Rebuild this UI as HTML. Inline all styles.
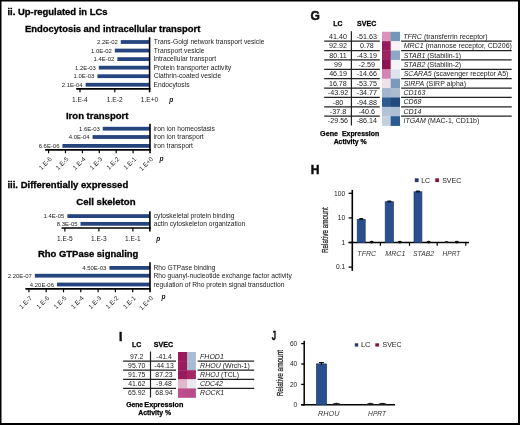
<!DOCTYPE html>
<html><head><meta charset="utf-8"><style>
html,body{margin:0;padding:0;background:#fff;}
svg{display:block;}
text{font-family:"Liberation Sans",sans-serif;}
</style></head><body>
<svg width="520" height="425" viewBox="0 0 520 425">
<defs><filter id="soft" x="0" y="0" width="520" height="425" filterUnits="userSpaceOnUse"><feGaussianBlur stdDeviation="0.3"/></filter></defs>
<rect x="0" y="0" width="520" height="425" fill="#fff"/>
<g filter="url(#soft)">
<rect x="0" y="0" width="520" height="425" fill="#fff"/>
<text x="7.44" y="14.8" font-size="9.45" font-weight="bold" font-style="normal" fill="#000" stroke="#000" stroke-width="0.3">ii. Up-regulated in LCs</text>
<text x="7.43" y="188.2" font-size="9.54" font-weight="bold" font-style="normal" fill="#000" stroke="#000" stroke-width="0.3">iii. Differentially expressed</text>
<text x="24.99" y="31.9" font-size="9.44" font-weight="bold" font-style="normal" fill="#000" stroke="#000" stroke-width="0.3">Endocytosis and intracellular transport</text>
<rect x="120.76" y="40.1" width="28.84" height="3.8" fill="#28457f"/>
<text x="97.03" y="44" font-size="5.95" font-weight="normal" font-style="normal" fill="#222">2.2E-02</text>
<text x="153.87" y="44" font-size="6.70" font-weight="normal" font-style="normal" fill="#222">Trans-Golgi network transport vesicle</text>
<rect x="114.8" y="48.65" width="34.8" height="3.8" fill="#28457f"/>
<text x="91.07" y="52.55" font-size="5.95" font-weight="normal" font-style="normal" fill="#222">1.0E-02</text>
<text x="153.87" y="52.55" font-size="6.70" font-weight="normal" font-style="normal" fill="#222">Transport vesicle</text>
<rect x="117.34" y="57.2" width="32.26" height="3.8" fill="#28457f"/>
<text x="93.62" y="61.1" font-size="5.95" font-weight="normal" font-style="normal" fill="#222">1.4E-02</text>
<text x="153.4" y="61.1" font-size="6.70" font-weight="normal" font-style="normal" fill="#222">Intracellular transport</text>
<rect x="98.78" y="65.75" width="50.82" height="3.8" fill="#28457f"/>
<text x="74.99" y="69.65" font-size="5.95" font-weight="normal" font-style="normal" fill="#222">1.2E-03</text>
<text x="153.46" y="69.65" font-size="6.70" font-weight="normal" font-style="normal" fill="#222">Protein transporter activity</text>
<rect x="97.4" y="74.3" width="52.2" height="3.8" fill="#28457f"/>
<text x="73.61" y="78.2" font-size="5.95" font-weight="normal" font-style="normal" fill="#222">1.0E-03</text>
<text x="153.66" y="78.2" font-size="6.70" font-weight="normal" font-style="normal" fill="#222">Clathrin-coated vesicle</text>
<rect x="85.61" y="82.85" width="63.99" height="3.8" fill="#28457f"/>
<text x="61.76" y="86.75" font-size="5.95" font-weight="normal" font-style="normal" fill="#222">2.1E-04</text>
<text x="153.46" y="86.75" font-size="6.70" font-weight="normal" font-style="normal" fill="#222">Endocytosis</text>
<line x1="149.6" y1="37.3" x2="149.6" y2="92.3" stroke="#000" stroke-width="1.6"/>
<line x1="76.2" y1="88.9" x2="150.4" y2="88.9" stroke="#000" stroke-width="1.7"/>
<line x1="80" y1="88.9" x2="80" y2="92.3" stroke="#000" stroke-width="1.2"/>
<line x1="114.8" y1="88.9" x2="114.8" y2="92.3" stroke="#000" stroke-width="1.2"/>
<text x="71.96" y="101.9" font-size="6.60" font-weight="normal" font-style="normal" fill="#222">1.E-4</text>
<text x="106.83" y="101.9" font-size="6.60" font-weight="normal" font-style="normal" fill="#222">1.E-2</text>
<text x="140.76" y="101.9" font-size="6.60" font-weight="normal" font-style="normal" fill="#222">1.E+0</text>
<text x="169.33" y="101.8" font-size="6.60" font-weight="bold" font-style="italic" fill="#111">p</text>
<text x="65.98" y="118.5" font-size="9.54" font-weight="bold" font-style="normal" fill="#000" stroke="#000" stroke-width="0.3">Iron transport</text>
<rect x="102.75" y="126.8" width="47.25" height="3.8" fill="#28457f"/>
<text x="78.96" y="130.7" font-size="5.95" font-weight="normal" font-style="normal" fill="#222">1.6E-03</text>
<text x="153.56" y="130.7" font-size="6.70" font-weight="normal" font-style="normal" fill="#222">iron ion homeostasis</text>
<rect x="92.57" y="135.1" width="57.43" height="3.8" fill="#28457f"/>
<text x="68.73" y="139" font-size="5.95" font-weight="normal" font-style="normal" fill="#222">4.0E-04</text>
<text x="153.56" y="139" font-size="6.70" font-weight="normal" font-style="normal" fill="#222">iron ion transport</text>
<rect x="62.45" y="144" width="87.55" height="3.8" fill="#28457f"/>
<text x="38.66" y="147.9" font-size="5.95" font-weight="normal" font-style="normal" fill="#222">6.6E-06</text>
<text x="153.56" y="147.9" font-size="6.70" font-weight="normal" font-style="normal" fill="#222">iron transport</text>
<line x1="150" y1="123.8" x2="150" y2="153.2" stroke="#000" stroke-width="1.6"/>
<line x1="45.1" y1="149.8" x2="150.8" y2="149.8" stroke="#000" stroke-width="1.7"/>
<line x1="48.6" y1="149.8" x2="48.6" y2="153.2" stroke="#000" stroke-width="1.2"/>
<line x1="65.5" y1="149.8" x2="65.5" y2="153.2" stroke="#000" stroke-width="1.2"/>
<line x1="82.4" y1="149.8" x2="82.4" y2="153.2" stroke="#000" stroke-width="1.2"/>
<line x1="99.3" y1="149.8" x2="99.3" y2="153.2" stroke="#000" stroke-width="1.2"/>
<line x1="116.2" y1="149.8" x2="116.2" y2="153.2" stroke="#000" stroke-width="1.2"/>
<line x1="133.1" y1="149.8" x2="133.1" y2="153.2" stroke="#000" stroke-width="1.2"/>
<text x="41.31" y="169.82" font-size="6.35" font-weight="normal" font-style="normal" fill="#222" transform="rotate(-45 41.78 169.82)">1.E-6</text>
<text x="58.21" y="169.82" font-size="6.35" font-weight="normal" font-style="normal" fill="#222" transform="rotate(-45 58.68 169.82)">1.E-5</text>
<text x="75.06" y="169.86" font-size="6.35" font-weight="normal" font-style="normal" fill="#222" transform="rotate(-45 75.54 169.86)">1.E-4</text>
<text x="92.01" y="169.82" font-size="6.35" font-weight="normal" font-style="normal" fill="#222" transform="rotate(-45 92.48 169.82)">1.E-3</text>
<text x="108.95" y="169.77" font-size="6.35" font-weight="normal" font-style="normal" fill="#222" transform="rotate(-45 109.43 169.77)">1.E-2</text>
<text x="125.83" y="169.79" font-size="6.35" font-weight="normal" font-style="normal" fill="#222" transform="rotate(-45 126.31 169.79)">1.E-1</text>
<text x="141.56" y="170.96" font-size="6.35" font-weight="normal" font-style="normal" fill="#222" transform="rotate(-45 142.04 170.96)">1.E+0</text>
<text x="159.43" y="160.6" font-size="6.60" font-weight="bold" font-style="italic" fill="#111">p</text>
<text x="76.21" y="205.4" font-size="9.64" font-weight="bold" font-style="normal" fill="#000" stroke="#000" stroke-width="0.3">Cell skeleton</text>
<rect x="67.38" y="214.2" width="82.52" height="3.8" fill="#28457f"/>
<text x="43.6" y="218.1" font-size="5.95" font-weight="normal" font-style="normal" fill="#222">1.4E-05</text>
<text x="153.73" y="218.2" font-size="6.70" font-weight="normal" font-style="normal" fill="#222">cytoskeletal protein binding</text>
<rect x="80.52" y="221.95" width="69.38" height="3.8" fill="#28457f"/>
<text x="56.74" y="225.85" font-size="5.95" font-weight="normal" font-style="normal" fill="#222">8.3E-05</text>
<text x="153.73" y="225.95" font-size="6.70" font-weight="normal" font-style="normal" fill="#222">actin cytoskeleton organization</text>
<line x1="149.9" y1="211.2" x2="149.9" y2="231.4" stroke="#000" stroke-width="1.6"/>
<line x1="61.5" y1="228" x2="150.7" y2="228" stroke="#000" stroke-width="1.7"/>
<line x1="64.9" y1="228" x2="64.9" y2="231.4" stroke="#000" stroke-width="1.2"/>
<line x1="98.9" y1="228" x2="98.9" y2="231.4" stroke="#000" stroke-width="1.2"/>
<line x1="132.9" y1="228" x2="132.9" y2="231.4" stroke="#000" stroke-width="1.2"/>
<text x="56.9" y="240.7" font-size="6.60" font-weight="normal" font-style="normal" fill="#222">1.E-5</text>
<text x="90.9" y="240.7" font-size="6.60" font-weight="normal" font-style="normal" fill="#222">1.E-3</text>
<text x="124.91" y="240.7" font-size="6.60" font-weight="normal" font-style="normal" fill="#222">1.E-1</text>
<text x="156.33" y="240.6" font-size="6.60" font-weight="bold" font-style="italic" fill="#111">p</text>
<text x="37.88" y="257.3" font-size="9.47" font-weight="bold" font-style="normal" fill="#000" stroke="#000" stroke-width="0.3">Rho GTPase signaling</text>
<rect x="109.4" y="266" width="40.6" height="3.8" fill="#28457f"/>
<text x="82.28" y="269.9" font-size="5.95" font-weight="normal" font-style="normal" fill="#222">4.50E-03</text>
<text x="153.46" y="269.9" font-size="6.70" font-weight="normal" font-style="normal" fill="#222">Rho GTPase binding</text>
<rect x="34.82" y="273.8" width="115.18" height="3.8" fill="#28457f"/>
<text x="7.76" y="277.7" font-size="5.95" font-weight="normal" font-style="normal" fill="#222">2.20E-07</text>
<text x="153.46" y="277.7" font-size="6.70" font-weight="normal" font-style="normal" fill="#222">Rho guanyl-nucleotide exchange factor activity</text>
<rect x="56.98" y="282.6" width="93.02" height="3.8" fill="#28457f"/>
<text x="29.86" y="286.5" font-size="5.95" font-weight="normal" font-style="normal" fill="#222">4.20E-06</text>
<text x="153.56" y="286.5" font-size="6.70" font-weight="normal" font-style="normal" fill="#222">regulation of Rho protein signal transduction</text>
<line x1="150" y1="262.3" x2="150" y2="292.3" stroke="#000" stroke-width="1.6"/>
<line x1="25.4" y1="288.9" x2="150.8" y2="288.9" stroke="#000" stroke-width="1.7"/>
<line x1="28.9" y1="288.9" x2="28.9" y2="292.3" stroke="#000" stroke-width="1.2"/>
<line x1="46.2" y1="288.9" x2="46.2" y2="292.3" stroke="#000" stroke-width="1.2"/>
<line x1="63.5" y1="288.9" x2="63.5" y2="292.3" stroke="#000" stroke-width="1.2"/>
<line x1="80.8" y1="288.9" x2="80.8" y2="292.3" stroke="#000" stroke-width="1.2"/>
<line x1="98.1" y1="288.9" x2="98.1" y2="292.3" stroke="#000" stroke-width="1.2"/>
<line x1="115.4" y1="288.9" x2="115.4" y2="292.3" stroke="#000" stroke-width="1.2"/>
<line x1="132.7" y1="288.9" x2="132.7" y2="292.3" stroke="#000" stroke-width="1.2"/>
<text x="21.65" y="308.87" font-size="6.35" font-weight="normal" font-style="normal" fill="#222" transform="rotate(-45 22.13 308.87)">1.E-7</text>
<text x="38.91" y="308.92" font-size="6.35" font-weight="normal" font-style="normal" fill="#222" transform="rotate(-45 39.38 308.92)">1.E-6</text>
<text x="56.21" y="308.92" font-size="6.35" font-weight="normal" font-style="normal" fill="#222" transform="rotate(-45 56.68 308.92)">1.E-5</text>
<text x="73.46" y="308.96" font-size="6.35" font-weight="normal" font-style="normal" fill="#222" transform="rotate(-45 73.94 308.96)">1.E-4</text>
<text x="90.81" y="308.92" font-size="6.35" font-weight="normal" font-style="normal" fill="#222" transform="rotate(-45 91.28 308.92)">1.E-3</text>
<text x="108.15" y="308.87" font-size="6.35" font-weight="normal" font-style="normal" fill="#222" transform="rotate(-45 108.63 308.87)">1.E-2</text>
<text x="125.43" y="308.89" font-size="6.35" font-weight="normal" font-style="normal" fill="#222" transform="rotate(-45 125.91 308.89)">1.E-1</text>
<text x="141.56" y="310.06" font-size="6.35" font-weight="normal" font-style="normal" fill="#222" transform="rotate(-45 142.04 310.06)">1.E+0</text>
<text x="161.43" y="299.2" font-size="6.60" font-weight="bold" font-style="italic" fill="#111">p</text>
<text x="310.62" y="20" font-size="12.00" font-weight="bold" font-style="normal" fill="#111" stroke="#111" stroke-width="0.5">G</text>
<rect x="382" y="31.8" width="9" height="9.68" fill="#d993ba"/>
<rect x="390.7" y="31.8" width="9.3" height="9.68" fill="#7198b9"/>
<g><text transform="translate(329.09 38.84) scale(1.070 1)" font-size="6.70" font-weight="normal" font-style="normal" fill="#222">41.40</text></g>
<g><text transform="translate(356.72 38.84) scale(1.070 1)" font-size="6.70" font-weight="normal" font-style="normal" fill="#222">-51.63</text></g>
<text x="403.27" y="38.74" font-size="7.0" fill="#222"><tspan font-style="italic">TFRC</tspan> (transferrin receptor)</text>
<line x1="324.2" y1="41.18" x2="379.8" y2="41.18" stroke="#222" stroke-width="1.3"/>
<line x1="401.1" y1="41.18" x2="511.7" y2="41.18" stroke="#222" stroke-width="1.3"/>
<rect x="382" y="41.18" width="9" height="9.68" fill="#951b5b"/>
<rect x="390.7" y="41.18" width="9.3" height="9.68" fill="#f6f2f6"/>
<g><text transform="translate(329.06 48.22) scale(1.070 1)" font-size="6.70" font-weight="normal" font-style="normal" fill="#222">92.92</text></g>
<g><text transform="translate(359.93 48.22) scale(1.070 1)" font-size="6.70" font-weight="normal" font-style="normal" fill="#222">0.78</text></g>
<text x="403.69" y="48.12" font-size="7.0" fill="#222"><tspan font-style="italic">MRC1</tspan> (mannose receptor, CD206)</text>
<line x1="324.2" y1="50.56" x2="379.8" y2="50.56" stroke="#222" stroke-width="1.3"/>
<line x1="401.1" y1="50.56" x2="511.7" y2="50.56" stroke="#222" stroke-width="1.3"/>
<rect x="382" y="50.56" width="9" height="9.68" fill="#9d2464"/>
<rect x="390.7" y="50.56" width="9.3" height="9.68" fill="#8ea7c4"/>
<g><text transform="translate(329.31 57.59) scale(1.070 1)" font-size="6.70" font-weight="normal" font-style="normal" fill="#222">80.11</text></g>
<g><text transform="translate(356.74 57.59) scale(1.070 1)" font-size="6.70" font-weight="normal" font-style="normal" fill="#222">-43.19</text></g>
<text x="403.69" y="57.5" font-size="7.0" fill="#222"><tspan font-style="italic">STAB1</tspan> (Stabilin-1)</text>
<line x1="324.2" y1="59.94" x2="379.8" y2="59.94" stroke="#222" stroke-width="1.3"/>
<line x1="401.1" y1="59.94" x2="511.7" y2="59.94" stroke="#222" stroke-width="1.3"/>
<rect x="382" y="59.94" width="9" height="9.68" fill="#8b1450"/>
<rect x="390.7" y="59.94" width="9.3" height="9.68" fill="#f3f3f6"/>
<g><text transform="translate(334.02 66.97) scale(1.070 1)" font-size="6.70" font-weight="normal" font-style="normal" fill="#222">99</text></g>
<g><text transform="translate(358.73 66.97) scale(1.070 1)" font-size="6.70" font-weight="normal" font-style="normal" fill="#222">-2.59</text></g>
<text x="403.69" y="66.88" font-size="7.0" fill="#222"><tspan font-style="italic">STAB2</tspan> (Stabilin-2)</text>
<line x1="324.2" y1="69.32" x2="379.8" y2="69.32" stroke="#222" stroke-width="1.3"/>
<line x1="401.1" y1="69.32" x2="511.7" y2="69.32" stroke="#222" stroke-width="1.3"/>
<rect x="382" y="69.32" width="9" height="9.68" fill="#d185b2"/>
<rect x="390.7" y="69.32" width="9.3" height="9.68" fill="#dce3ec"/>
<g><text transform="translate(329.13 76.36) scale(1.070 1)" font-size="6.70" font-weight="normal" font-style="normal" fill="#222">46.19</text></g>
<g><text transform="translate(356.72 76.36) scale(1.070 1)" font-size="6.70" font-weight="normal" font-style="normal" fill="#222">-14.66</text></g>
<text x="403.69" y="76.26" font-size="7.0" fill="#222"><tspan font-style="italic">SCARA5</tspan> (scavenger receptor A5)</text>
<line x1="324.2" y1="78.7" x2="379.8" y2="78.7" stroke="#222" stroke-width="1.3"/>
<line x1="401.1" y1="78.7" x2="511.7" y2="78.7" stroke="#222" stroke-width="1.3"/>
<rect x="382" y="78.7" width="9" height="9.68" fill="#f0e0e8"/>
<rect x="390.7" y="78.7" width="9.3" height="9.68" fill="#7b99b9"/>
<g><text transform="translate(328.91 85.73) scale(1.070 1)" font-size="6.70" font-weight="normal" font-style="normal" fill="#222">16.78</text></g>
<g><text transform="translate(356.72 85.73) scale(1.070 1)" font-size="6.70" font-weight="normal" font-style="normal" fill="#222">-53.75</text></g>
<text x="403.69" y="85.64" font-size="7.0" fill="#222"><tspan font-style="italic">SIRPA</tspan> (SIRP alpha)</text>
<line x1="324.2" y1="88.08" x2="379.8" y2="88.08" stroke="#222" stroke-width="1.3"/>
<line x1="401.1" y1="88.08" x2="511.7" y2="88.08" stroke="#222" stroke-width="1.3"/>
<rect x="382" y="88.08" width="9" height="9.68" fill="#a3b5cc"/>
<rect x="390.7" y="88.08" width="9.3" height="9.68" fill="#abbcd1"/>
<g><text transform="translate(327.86 95.11) scale(1.070 1)" font-size="6.70" font-weight="normal" font-style="normal" fill="#222">-43.92</text></g>
<g><text transform="translate(356.76 95.11) scale(1.070 1)" font-size="6.70" font-weight="normal" font-style="normal" fill="#222">-34.77</text></g>
<text x="403.51" y="95.02" font-size="7.0" fill="#222"><tspan font-style="italic">CD163</tspan></text>
<line x1="324.2" y1="97.46" x2="379.8" y2="97.46" stroke="#222" stroke-width="1.3"/>
<line x1="401.1" y1="97.46" x2="511.7" y2="97.46" stroke="#222" stroke-width="1.3"/>
<rect x="382" y="97.46" width="9" height="9.68" fill="#2f5b8f"/>
<rect x="390.7" y="97.46" width="9.3" height="9.68" fill="#214b7f"/>
<g><text transform="translate(332.78 104.5) scale(1.070 1)" font-size="6.70" font-weight="normal" font-style="normal" fill="#222">-80</text></g>
<g><text transform="translate(356.72 104.5) scale(1.070 1)" font-size="6.70" font-weight="normal" font-style="normal" fill="#222">-94.88</text></g>
<text x="403.51" y="104.4" font-size="7.0" fill="#222"><tspan font-style="italic">CD68</tspan></text>
<line x1="324.2" y1="106.84" x2="379.8" y2="106.84" stroke="#222" stroke-width="1.3"/>
<line x1="401.1" y1="106.84" x2="511.7" y2="106.84" stroke="#222" stroke-width="1.3"/>
<rect x="382" y="106.84" width="9" height="9.68" fill="#b3c3d6"/>
<rect x="390.7" y="106.84" width="9.3" height="9.68" fill="#aebfd3"/>
<g><text transform="translate(329.81 113.88) scale(1.070 1)" font-size="6.70" font-weight="normal" font-style="normal" fill="#222">-37.8</text></g>
<g><text transform="translate(358.71 113.88) scale(1.070 1)" font-size="6.70" font-weight="normal" font-style="normal" fill="#222">-40.6</text></g>
<text x="403.51" y="113.78" font-size="7.0" fill="#222"><tspan font-style="italic">CD14</tspan></text>
<line x1="324.2" y1="116.22" x2="379.8" y2="116.22" stroke="#222" stroke-width="1.3"/>
<line x1="401.1" y1="116.22" x2="511.7" y2="116.22" stroke="#222" stroke-width="1.3"/>
<rect x="382" y="116.22" width="9" height="9.68" fill="#c3d0df"/>
<rect x="390.7" y="116.22" width="9.3" height="9.68" fill="#2c5a90"/>
<g><text transform="translate(327.82 123.25) scale(1.070 1)" font-size="6.70" font-weight="normal" font-style="normal" fill="#222">-29.56</text></g>
<g><text transform="translate(356.68 123.25) scale(1.070 1)" font-size="6.70" font-weight="normal" font-style="normal" fill="#222">-86.14</text></g>
<text x="403.62" y="123.16" font-size="7.0" fill="#222"><tspan font-style="italic">ITGAM</tspan> (MAC-1, CD11b)</text>
<line x1="351.4" y1="31.3" x2="351.4" y2="125.6" stroke="#222" stroke-width="1.2"/>
<text x="333.27" y="26.4" font-size="6.90" font-weight="bold" font-style="normal" fill="#000" stroke="#000" stroke-width="0.25">LC</text>
<g><text transform="translate(357.09 26.4) scale(1.022 1)" font-size="6.90" font-weight="bold" font-style="normal" fill="#000" stroke="#000" stroke-width="0.25">SVEC</text></g>
<text x="320.11" y="135.5" font-size="7.18" font-weight="bold" font-style="normal" fill="#000" stroke="#000" stroke-width="0.25">Gene</text>
<text x="341.95" y="135.5" font-size="6.91" font-weight="bold" font-style="normal" fill="#000" stroke="#000" stroke-width="0.25">Expression</text>
<text x="333.63" y="143.5" font-size="6.91" font-weight="bold" font-style="normal" fill="#000" stroke="#000" stroke-width="0.25">Activity %</text>
<text x="118.95" y="340.6" font-size="12.00" font-weight="bold" font-style="normal" fill="#111" stroke="#111" stroke-width="0.5">I</text>
<rect x="178" y="352" width="9.3" height="9.4" fill="#9a1e5d"/>
<rect x="187" y="352" width="8.9" height="9.4" fill="#a8bdd2"/>
<g><text transform="translate(130.01 358.82) scale(1.030 1)" font-size="6.70" font-weight="normal" font-style="normal" fill="#222">97.2</text></g>
<g><text transform="translate(156.08 358.82) scale(1.030 1)" font-size="6.70" font-weight="normal" font-style="normal" fill="#222">-41.4</text></g>
<text x="200.09" y="358.73" font-size="7.0" fill="#222"><tspan font-style="italic">FHOD1</tspan></text>
<line x1="123.1" y1="361.1" x2="176" y2="361.1" stroke="#222" stroke-width="1.3"/>
<line x1="197.6" y1="361.1" x2="254.2" y2="361.1" stroke="#222" stroke-width="1.3"/>
<rect x="178" y="361.1" width="9.3" height="9.4" fill="#9a1e5d"/>
<rect x="187" y="361.1" width="8.9" height="9.4" fill="#a6bad0"/>
<g><text transform="translate(128.04 367.93) scale(1.030 1)" font-size="6.70" font-weight="normal" font-style="normal" fill="#222">95.70</text></g>
<g><text transform="translate(154.2 367.93) scale(1.030 1)" font-size="6.70" font-weight="normal" font-style="normal" fill="#222">-44.13</text></g>
<text x="200.09" y="367.83" font-size="7.0" fill="#222"><tspan font-style="italic">RHOU</tspan> (Wrch-1)</text>
<line x1="123.1" y1="370.2" x2="176" y2="370.2" stroke="#222" stroke-width="1.3"/>
<line x1="197.6" y1="370.2" x2="254.2" y2="370.2" stroke="#222" stroke-width="1.3"/>
<rect x="178" y="370.2" width="9.3" height="9.4" fill="#981d5b"/>
<rect x="187" y="370.2" width="8.9" height="9.4" fill="#a42563"/>
<g><text transform="translate(128.06 377.02) scale(1.030 1)" font-size="6.70" font-weight="normal" font-style="normal" fill="#222">91.75</text></g>
<g><text transform="translate(155.36 377.02) scale(1.030 1)" font-size="6.70" font-weight="normal" font-style="normal" fill="#222">87.23</text></g>
<text x="200.09" y="376.93" font-size="7.0" fill="#222"><tspan font-style="italic">RHOJ</tspan> (TCL)</text>
<line x1="123.1" y1="379.3" x2="176" y2="379.3" stroke="#222" stroke-width="1.3"/>
<line x1="197.6" y1="379.3" x2="254.2" y2="379.3" stroke="#222" stroke-width="1.3"/>
<rect x="178" y="379.3" width="9.3" height="9.4" fill="#dfb8cb"/>
<rect x="187" y="379.3" width="8.9" height="9.4" fill="#ebe9f0"/>
<g><text transform="translate(128.18 386.12) scale(1.030 1)" font-size="6.70" font-weight="normal" font-style="normal" fill="#222">41.62</text></g>
<g><text transform="translate(156.12 386.12) scale(1.030 1)" font-size="6.70" font-weight="normal" font-style="normal" fill="#222">-9.48</text></g>
<text x="199.92" y="386.03" font-size="7.0" fill="#222"><tspan font-style="italic">CDC42</tspan></text>
<line x1="123.1" y1="388.4" x2="176" y2="388.4" stroke="#222" stroke-width="1.3"/>
<line x1="197.6" y1="388.4" x2="254.2" y2="388.4" stroke="#222" stroke-width="1.3"/>
<rect x="178" y="388.4" width="9.3" height="9.4" fill="#bb4e8c"/>
<rect x="187" y="388.4" width="8.9" height="9.4" fill="#b84b89"/>
<g><text transform="translate(128.07 395.22) scale(1.030 1)" font-size="6.70" font-weight="normal" font-style="normal" fill="#222">65.92</text></g>
<g><text transform="translate(155.3 395.22) scale(1.030 1)" font-size="6.70" font-weight="normal" font-style="normal" fill="#222">68.94</text></g>
<text x="200.09" y="395.13" font-size="7.0" fill="#222"><tspan font-style="italic">ROCK1</tspan></text>
<line x1="150.5" y1="351.5" x2="150.5" y2="397.5" stroke="#222" stroke-width="1.2"/>
<text x="131.97" y="346.8" font-size="6.90" font-weight="bold" font-style="normal" fill="#000" stroke="#000" stroke-width="0.25">LC</text>
<g><text transform="translate(153.79 346.8) scale(1.028 1)" font-size="6.90" font-weight="bold" font-style="normal" fill="#000" stroke="#000" stroke-width="0.25">SVEC</text></g>
<text x="126.13" y="406.9" font-size="6.80" font-weight="bold" font-style="normal" fill="#000" stroke="#000" stroke-width="0.25">Gene</text>
<text x="144.33" y="406.9" font-size="7.24" font-weight="bold" font-style="normal" fill="#000" stroke="#000" stroke-width="0.25">Expression</text>
<text x="138.33" y="415.1" font-size="6.85" font-weight="bold" font-style="normal" fill="#000" stroke="#000" stroke-width="0.25">Activity %</text>
<text x="310.78" y="174.1" font-size="12.00" font-weight="bold" font-style="normal" fill="#111" stroke="#111" stroke-width="0.5">H</text>
<rect x="414.8" y="178.3" width="3.8" height="3.8" fill="#2a3b62"/>
<text x="421.14" y="182.5" font-size="6.98" font-weight="normal" font-style="normal" fill="#222">LC</text>
<rect x="435.2" y="178.3" width="3.8" height="3.8" fill="#8c1737"/>
<text x="442.18" y="182.5" font-size="7.01" font-weight="normal" font-style="normal" fill="#222">SVEC</text>
<line x1="352.3" y1="189.9" x2="352.3" y2="270.9" stroke="#000" stroke-width="1.6"/>
<line x1="348.6" y1="193.3" x2="352.3" y2="193.3" stroke="#000" stroke-width="1.3"/>
<text x="333.98" y="195.5" font-size="6.70" font-weight="normal" font-style="normal" fill="#222">100</text>
<line x1="348.6" y1="217.9" x2="352.3" y2="217.9" stroke="#000" stroke-width="1.3"/>
<text x="337.7" y="220.1" font-size="6.70" font-weight="normal" font-style="normal" fill="#222">10</text>
<line x1="348.6" y1="242.5" x2="352.3" y2="242.5" stroke="#000" stroke-width="1.3"/>
<text x="341.48" y="244.7" font-size="6.70" font-weight="normal" font-style="normal" fill="#222">1</text>
<line x1="348.6" y1="267.1" x2="352.3" y2="267.1" stroke="#000" stroke-width="1.3"/>
<text x="335.89" y="269.3" font-size="6.70" font-weight="normal" font-style="normal" fill="#222">0.1</text>
<line x1="348.6" y1="242.5" x2="469" y2="242.5" stroke="#000" stroke-width="1.4"/>
<line x1="380.4" y1="242.5" x2="380.4" y2="245.8" stroke="#000" stroke-width="1.2"/>
<line x1="409.5" y1="242.5" x2="409.5" y2="245.8" stroke="#000" stroke-width="1.2"/>
<line x1="437.2" y1="242.5" x2="437.2" y2="245.8" stroke="#000" stroke-width="1.2"/>
<line x1="465.8" y1="242.5" x2="465.8" y2="245.8" stroke="#000" stroke-width="1.2"/>
<rect x="357.2" y="219.3" width="8" height="23.2" fill="#2c4f8c" stroke="#1f3b6f" stroke-width="0.7"/>
<rect x="359.1" y="218" width="4.2" height="2.0" rx="0.8" fill="#0d1626"/>
<ellipse cx="371.7" cy="242.1" rx="2.0" ry="1.3" fill="#111"/>
<rect x="385.2" y="201.7" width="8.2" height="40.8" fill="#2c4f8c" stroke="#1f3b6f" stroke-width="0.7"/>
<rect x="387.1" y="200.4" width="4.4" height="2.0" rx="0.8" fill="#0d1626"/>
<ellipse cx="399.8" cy="242.1" rx="2.0" ry="1.3" fill="#111"/>
<rect x="414" y="191.8" width="7.9" height="50.7" fill="#2c4f8c" stroke="#1f3b6f" stroke-width="0.7"/>
<rect x="415.9" y="190.5" width="4.1" height="2.0" rx="0.8" fill="#0d1626"/>
<ellipse cx="428.6" cy="242.1" rx="2.0" ry="1.3" fill="#111"/>
<ellipse cx="446.5" cy="242.1" rx="1.8" ry="1.0" fill="#222"/>
<ellipse cx="456.8" cy="242.1" rx="2.0" ry="1.3" fill="#111"/>
<text x="357.37" y="255.6" font-size="7.00" font-weight="normal" font-style="italic" fill="#333">TFRC</text>
<g><text transform="translate(385.19 255.6) scale(1.021 1)" font-size="7.00" font-weight="normal" font-style="italic" fill="#333">MRC1</text></g>
<g><text transform="translate(413.1 255.6) scale(0.970 1)" font-size="7.00" font-weight="normal" font-style="italic" fill="#333">STAB2</text></g>
<g><text transform="translate(442.6 255.6) scale(0.935 1)" font-size="7.00" font-weight="normal" font-style="italic" fill="#333">HPRT</text></g>
<text transform="translate(328 252.5) rotate(-90) scale(0.658 1)" x="-0.77" y="0" font-size="9.66" fill="#222" stroke="#222" stroke-width="0.25">Relative amount</text>
<g><text transform="translate(271.78 340.4) scale(0.649 1)" font-size="12.00" font-weight="bold" font-style="normal" fill="#111" stroke="#111" stroke-width="0.5">J</text></g>
<rect x="354.8" y="343.3" width="3.4" height="3.3" fill="#2a3b62"/>
<text x="360.89" y="347.1" font-size="7.59" font-weight="normal" font-style="normal" fill="#222">LC</text>
<rect x="375.3" y="343.3" width="3.7" height="3.3" fill="#8c1737"/>
<text x="382.49" y="347.1" font-size="6.97" font-weight="normal" font-style="normal" fill="#222">SVEC</text>
<line x1="304.2" y1="340.8" x2="304.2" y2="405.5" stroke="#000" stroke-width="1.5"/>
<line x1="301.2" y1="343.6" x2="304.2" y2="343.6" stroke="#000" stroke-width="1.3"/>
<text x="289.91" y="345.9" font-size="6.60" font-weight="normal" font-style="normal" fill="#222">60</text>
<line x1="301.2" y1="364" x2="304.2" y2="364" stroke="#000" stroke-width="1.3"/>
<text x="289.9" y="366.3" font-size="6.60" font-weight="normal" font-style="normal" fill="#222">40</text>
<line x1="301.2" y1="384.4" x2="304.2" y2="384.4" stroke="#000" stroke-width="1.3"/>
<text x="289.91" y="386.7" font-size="6.60" font-weight="normal" font-style="normal" fill="#222">20</text>
<line x1="301.2" y1="404.8" x2="304.2" y2="404.8" stroke="#000" stroke-width="1.3"/>
<text x="293.57" y="407.1" font-size="6.60" font-weight="normal" font-style="normal" fill="#222">0</text>
<line x1="301.2" y1="404.8" x2="395" y2="404.8" stroke="#000" stroke-width="1.6"/>
<rect x="316.4" y="363.9" width="10.2" height="40.9" fill="#2c4f8c" stroke="#1f3b6f" stroke-width="0.7"/>
<line x1="319" y1="362.6" x2="323.9" y2="362.6" stroke="#000" stroke-width="1.1"/>
<line x1="321.45" y1="362.6" x2="321.45" y2="365.3" stroke="#000" stroke-width="1.1"/>
<path d="M331 404.8 Q336.5 400.6 342 404.8" fill="#222"/>
<path d="M365.6 404.8 Q370.4 400.6 375.2 404.8" fill="#222"/>
<path d="M377 404.8 Q382.5 400.6 388 404.8" fill="#222"/>
<g><text transform="translate(318.08 416) scale(1.034 1)" font-size="7.00" font-weight="normal" font-style="italic" fill="#333">RHOU</text></g>
<g><text transform="translate(368.1 416) scale(0.951 1)" font-size="7.00" font-weight="normal" font-style="italic" fill="#333">HPRT</text></g>
<text transform="translate(282.82 395.8) rotate(-90) scale(0.773 1)" x="-0.66" y="0" font-size="8.30" fill="#222" stroke="#222" stroke-width="0.25">Relative amount</text>
</g>
<path d="M0 0H520V425H0Z M1.5 1.5V423H518V1.5Z" fill="#000" fill-rule="evenodd"/>
</svg>
</body></html>
